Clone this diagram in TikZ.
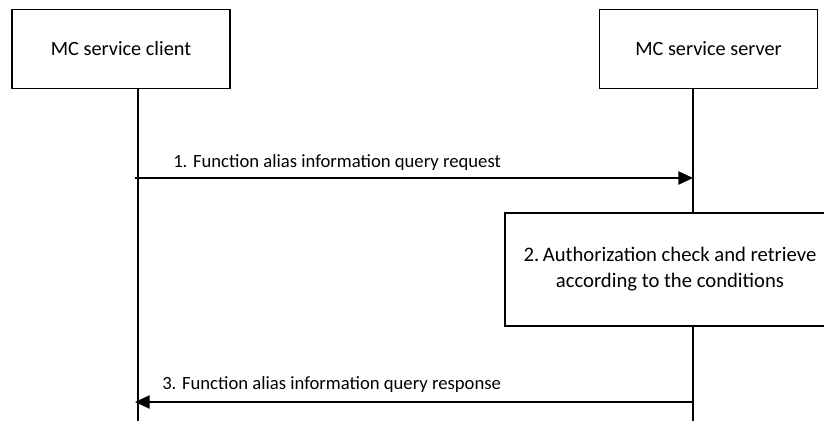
\documentclass[tikz,border=0pt]{standalone}
\usepackage{fontspec}
\setmainfont{Carlito}
\usetikzlibrary{arrows.meta}
\begin{document}
\begin{tikzpicture}[x=0.75pt,y=-0.75pt,
  every node/.style={font=\fontsize{14.5}{17.5}\selectfont},
  actor/.style={draw,line width=1pt,minimum width=218*0.75pt,minimum height=78.5*0.75pt,inner sep=0pt,font=\fontsize{15.2}{18}\selectfont},
  procbox/.style={draw,line width=1pt,minimum width=330*0.75pt,minimum height=113*0.75pt,inner sep=0pt,align=center,font=\fontsize{15.5}{17.5}\selectfont},
  life/.style={line width=1pt},
  msg/.style={line width=1pt,-{Triangle[length=11pt,width=10pt]}},
  lbl/.style={anchor=west,inner sep=0pt,font=\fontsize{14}{17}\selectfont}]
\useasboundingbox (0,0) rectangle (824,421);
\clip (0,0) rectangle (824,421);
\fill[white] (0,0) rectangle (824,421);
\node[actor] (client) at (121,49) {MC service client};
\node[actor] (server) at (708.5,49) {MC service server};
\node[procbox] (proc) at (670,269.5) {\raisebox{2pt}{2.\,Authorization check and retrieve}\\according to the conditions};
\coordinate (cb) at (138,421);
\coordinate (sb) at (693,421);
\coordinate (a1s) at (135,178);
\coordinate (a1e) at (693,178);
\coordinate (a3s) at (693,402);
\coordinate (a3e) at (135,402);
\draw[life] (client.south -| cb) -- (cb);
\draw[life] (server.south -| sb) -- (proc.north -| sb);
\draw[life] (proc.south -| sb) -- (sb);
\draw[msg] (a1s) -- (a1e);
\draw[msg] (a3s) -- (a3e);
\node[lbl] (l1) at (173,163) {1. Function alias information query request};
\node[lbl] (l3) at (162,385) {3. Function alias information query response};
\end{tikzpicture}
\end{document}
